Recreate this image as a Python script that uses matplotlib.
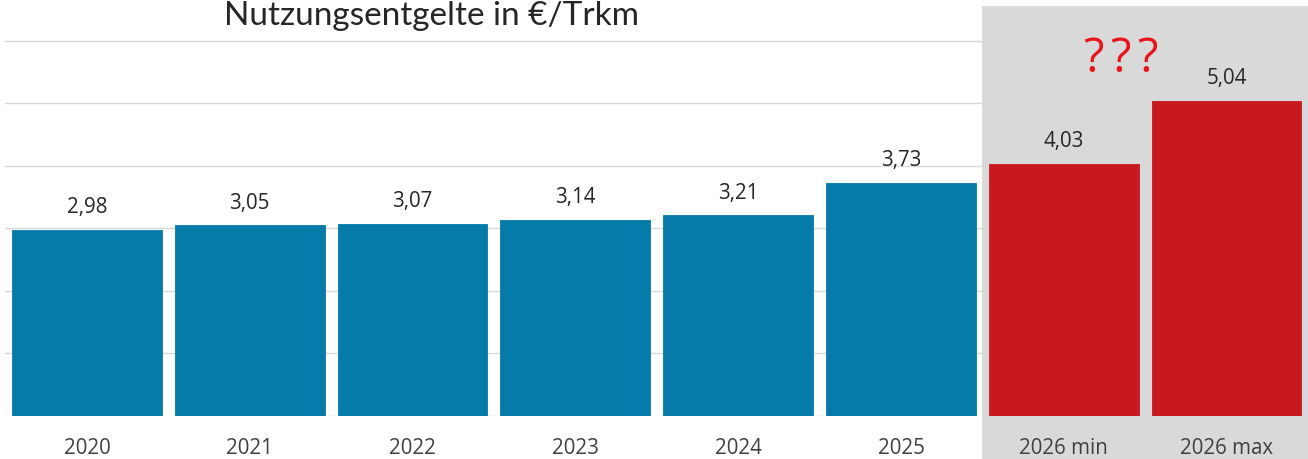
import matplotlib.pyplot as plt
from matplotlib.patches import Rectangle

categories = ["2020", "2021", "2022", "2023", "2024", "2025", "2026 min", "2026 max"]
values = [2.98, 3.05, 3.07, 3.14, 3.21, 3.73, 4.03, 5.04]
labels = ["2,98", "3,05", "3,07", "3,14", "3,21", "3,73", "4,03", "5,04"]
colors = ["#067aa9"] * 6 + ["#c8191f"] * 2

plt.rcParams['font.family'] = ['Open Sans', 'DejaVu Sans']

fig = plt.figure(figsize=(13.08, 4.6), dpi=100)
ax = fig.add_axes([0.0042, 0.0935, 0.9958, 0.9065])

x = list(range(len(categories)))

# gray box behind the 2026 bars
ax.add_patch(Rectangle((5.5, -0.75), 2.1, 7.31, facecolor="#d9d9d9",
                       edgecolor="none", clip_on=False, zorder=0))

for y in range(0, 7):
    ax.axhline(y, color="#d9d9d9", lw=1, zorder=0.5)

ax.bar(x, values, width=0.92, color=colors, edgecolor=colors, lw=0.6, zorder=2)

for xi, v, lab in zip(x, values, labels):
    ax.text(xi, v + 0.37, lab, ha="center", va="center", fontsize=14.8, color="#262626")

for xi, c in zip(x, categories):
    ax.text(xi, -0.5, c, ha="center", va="center", fontsize=14.8, color="#404040")

# the three question marks, slightly spread apart
for dx in (-0.165, 0, 0.165):
    ax.text(6.35 + dx, 5.72, "?", ha="center", va="center", fontsize=34, color="#e8141c")

ax.set_xlim(-0.5, 7.5)
ax.set_ylim(0, 6.67)
ax.axis("off")

fig.text(432 / 1308, 1 - 25 / 460, "Nutzungsentgelte in €/Trkm", ha="center", va="baseline",
         fontsize=24, color="#262626", family=["Lato", "DejaVu Sans"])

fig.savefig("out.png", dpi=100)
